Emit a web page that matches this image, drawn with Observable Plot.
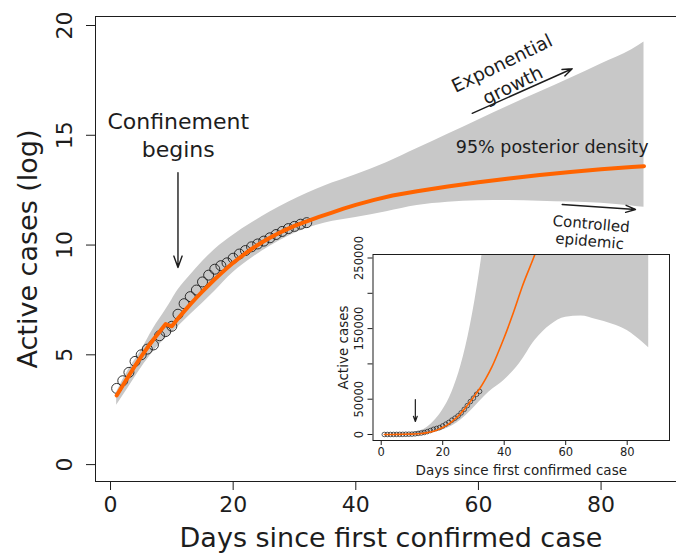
<!DOCTYPE html>
<html>
<head>
<meta charset="utf-8">
<script src="https://cdn.jsdelivr.net/npm/d3@7"></script>
<script src="https://cdn.jsdelivr.net/npm/@observablehq/plot@0.6"></script>
<style>
  html, body { margin: 0; padding: 0; background: #fff; }
  #wrap { position: relative; width: 676px; height: 555px; overflow: hidden; font-family: "DejaVu Sans"; }
  #wrap svg { position: absolute; }
</style>
</head>
<body>
<div id="wrap"></div>
<script>
// ---- observed active cases (natural log), days since first confirmed case ----
const obsDays = [1,2,3,4,5,6,7,8,9,10,11,12,13,14,15,16,17,18,19,20,21,22,23,24,25,26,27,28,29,30,31,32];
const obsLog  = [3.47,3.82,4.2,4.7,5.0,5.26,5.45,5.87,6.06,6.3,6.85,7.33,7.65,7.95,8.32,8.63,8.9,9.06,9.19,9.4,9.59,9.75,9.92,10.05,10.18,10.33,10.48,10.62,10.75,10.85,10.95,11.02];

// ---- fitted (posterior median) curve, log scale ----
const fitDays = [1,2,3,4,5,6,7,8,9,10,11,12,13,14,15,16,17,18,19,20,21,22,23,24,25,26,27,28,29,30,31,32,34,36,38,40,43,46,50,55,60,65,70,75,80,85,87];
const fitLog  = [3.15,3.6,4.05,4.5,4.92,5.32,5.7,6.05,6.4,6.3,6.65,6.98,7.3,7.6,7.89,8.17,8.44,8.7,8.95,9.19,9.41,9.62,9.82,10.0,10.17,10.33,10.48,10.62,10.75,10.87,10.98,11.08,11.28,11.47,11.66,11.83,12.06,12.26,12.45,12.67,12.86,13.03,13.19,13.33,13.45,13.55,13.59];

// ---- 95% posterior density band, log scale ----
const bandDays  = [1,3,5,7,9,10,11,12,13,15,17,20,23,26,29,32,35,40,45,50,55,60,65,70,75,80,85,87];
const bandLower = [2.7,3.55,4.4,5.15,5.75,6.0,6.28,6.55,6.82,7.35,7.9,8.75,9.4,9.95,10.4,10.75,11.0,11.25,11.52,11.8,11.95,12.02,12.03,12.0,11.96,11.9,11.78,11.72];
const bandUpper = [3.3,4.35,5.2,6.2,7.05,7.5,7.95,8.3,8.62,9.25,9.8,10.45,11.0,11.5,11.95,12.35,12.7,13.2,13.75,14.4,15.05,15.7,16.35,16.97,17.6,18.25,18.9,19.25];

// ---- tick labels ----
const xTicks = [0, 20, 40, 60, 80];
const yTicks = [0, 5, 10, 15, 20];
const insetYTicks = [0, 50000, 100000, 150000, 200000, 250000];
const insetYLabels = [0, 50000, 150000, 250000];

// ---- annotation texts ----
const txtConfinement = "Confinement\nbegins";
const txtExponential = "Exponential\ngrowth";
const txtDensity = "95% posterior density";
const txtControlled = "Controlled\nepidemic";
const txtXLabel = "Days since first confirmed case";
const txtYLabel = "Active cases (log)";
const txtInsetY = "Active cases";

// tables built from the arrays
const obs = obsDays.map((d, i) => ({day: d, v: obsLog[i]}));
const fit = fitDays.map((d, i) => ({day: d, v: fitLog[i]}));
const band = bandDays.map((d, i) => ({day: d, lower: bandLower[i], upper: bandUpper[i]}));

const ink = "#1d1d1d";
const orange = "#ff6400";
const grey = "#c8c8c8";

const main = Plot.plot({
  width: 676, height: 555,
  marginLeft: 95, marginRight: 0, marginTop: 16, marginBottom: 74,
  x: {domain: [-2.45, 92.3]},
  y: {domain: [-0.77, 20.41]},
  style: {fontFamily: "DejaVu Sans", fontSize: "22px", color: ink, background: "white", overflow: "visible"},
  marks: [
    Plot.areaY(band, {x: "day", y1: "lower", y2: "upper", fill: grey, curve: "monotone-x"}),
    Plot.dot(obs, {x: "day", y: "v", r: 5, stroke: ink, strokeWidth: 0.9, fill: "none"}),
    Plot.line(fit, {x: "day", y: "v", stroke: orange, strokeWidth: 4, curve: "linear", strokeLinejoin: "round"}),
    Plot.ruleX([-2.45], {stroke: ink}),
    Plot.ruleY([-0.77, 20.41], {stroke: ink}),
    Plot.axisX(xTicks, {tickSize: 9, tickPadding: 6, label: null, stroke: ink}),
    Plot.axisY(yTicks, {tickSize: 9, tickFormat: () => "", label: null, stroke: ink}),
    Plot.text(yTicks, {y: d => d, text: d => String(d), frameAnchor: "left", dx: -31, rotate: -90, textAnchor: "middle", lineAnchor: "middle", fontSize: 22}),
    Plot.text([txtXLabel], {text: d => d, frameAnchor: "bottom", dx: 5, dy: 57, lineAnchor: "middle", textAnchor: "middle", fontSize: 27}),
    Plot.text([txtYLabel], {text: d => d, frameAnchor: "left", dx: -67, rotate: -90, textAnchor: "middle", lineAnchor: "middle", fontSize: 27}),
    // annotations
    Plot.text([txtConfinement], {x: 11.04, y: 15.06, text: d => d, fontSize: 22, lineHeight: 1.3}),
    Plot.arrow([{x1: 11, y1: 13.3, x2: 11, y2: 8.98}], {x1: "x1", y1: "y1", x2: "x2", y2: "y2", stroke: ink, strokeWidth: 1.4, headLength: 13, headAngle: 40}),
    Plot.text([txtExponential], {x: 64.6, y: 17.84, text: d => d, fontSize: 18.5, lineHeight: 1.32, rotate: -26}),
    Plot.arrow([{x1: 58.98, y1: 16.0, x2: 75.29, y2: 18.03}], {x1: "x1", y1: "y1", x2: "x2", y2: "y2", stroke: ink, strokeWidth: 1.4, headLength: 11, headAngle: 40}),
    Plot.text([txtDensity], {x: 72.03, y: 14.46, text: d => d, fontSize: 17.5}),
    Plot.arrow([{x1: 73.66, y1: 11.85, x2: 85.61, y2: 11.62}], {x1: "x1", y1: "y1", x2: "x2", y2: "y2", stroke: ink, strokeWidth: 1.4, headLength: 11, headAngle: 40}),
    Plot.text([txtControlled], {x: 78.27, y: 10.59, text: d => d, fontSize: 15, lineHeight: 1.15, rotate: 5})
  ]
});
main.style.left = "0px";
main.style.top = "0px";
document.getElementById("wrap").appendChild(main);

const inset = Plot.plot({
  width: 356, height: 240,
  marginLeft: 52.5, marginRight: 7, marginTop: 14, marginBottom: 40,
  x: {domain: [-2.67, 93.76]},
  y: {domain: [-8500, 254960]},
  style: {fontFamily: "DejaVu Sans", fontSize: "11.5px", color: ink, background: "transparent", overflow: "visible"},
  marks: [
    Plot.areaY(band, {x: "day", y1: d => Math.exp(d.lower), y2: d => Math.exp(d.upper), fill: grey, curve: "monotone-x", clip: true}),
    Plot.dot(obs, {x: "day", y: d => Math.exp(d.v), r: 2.3, stroke: ink, strokeWidth: 0.7, fill: "none", clip: true}),
    Plot.line(fit, {x: "day", y: d => Math.exp(d.v), stroke: orange, strokeWidth: 1.6, curve: "monotone-x", clip: true}),
    Plot.frame({stroke: ink}),
    Plot.axisX(xTicks, {tickSize: 5, tickPadding: 2, label: null, stroke: ink}),
    Plot.axisY(insetYTicks, {tickSize: 5, tickFormat: () => "", label: null, stroke: ink}),
    Plot.text(insetYLabels, {y: d => d, text: d => String(d), frameAnchor: "left", dx: -14, rotate: -90, textAnchor: "middle", lineAnchor: "middle"}),
    Plot.text([txtXLabel], {text: d => d, frameAnchor: "bottom", dy: 30, lineAnchor: "middle", textAnchor: "middle", fontSize: 13.5}),
    Plot.text([txtInsetY], {text: d => d, frameAnchor: "left", dx: -29, rotate: -90, textAnchor: "middle", lineAnchor: "middle", fontSize: 13.5}),
    Plot.arrow([{x1: 11.1, y1: 49600, x2: 11.1, y2: 18400}], {x1: "x1", y1: "y1", x2: "x2", y2: "y2", stroke: ink, strokeWidth: 1.2, headLength: 7, headAngle: 40})
  ]
});
inset.style.left = "320px";
inset.style.top = "240px";
document.getElementById("wrap").appendChild(inset);
</script>
</body>
</html>
